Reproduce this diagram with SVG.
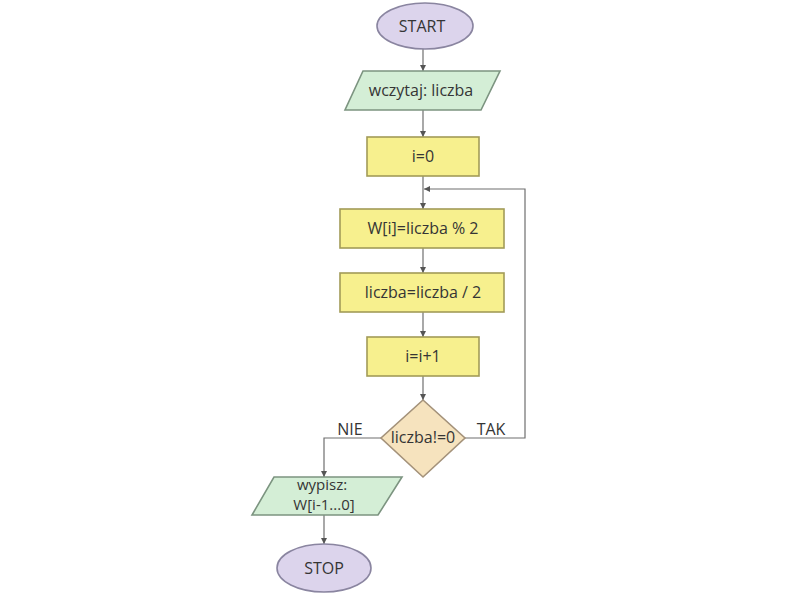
<svg xmlns="http://www.w3.org/2000/svg" width="800" height="600" viewBox="0 0 800 600">
  <defs>
    <marker id="arr" viewBox="0 0 10 10" refX="10" refY="5" markerWidth="6" markerHeight="6" markerUnits="userSpaceOnUse" orient="auto">
      <path d="M0,0 L10,5 L0,10 z" fill="#555"/>
    </marker>
    <style>
      .t { font-family: "Open Sans", "Liberation Sans", sans-serif; font-size: 16px; fill: #353535; text-anchor: middle; }
      .s { font-size: 15px; }
      .term { fill: #dcd4ec; stroke: #8a85a0; stroke-width: 1.6; }
      .io { fill: #d4eed6; stroke: #7c9480; stroke-width: 1.6; }
      .proc { fill: #f7f08e; stroke: #a29b58; stroke-width: 1.6; }
      .dec { fill: #f6e3be; stroke: #a4927a; stroke-width: 1.6; }
      .ln { fill: none; stroke: #6f6f6f; stroke-width: 1.2; }
    </style>
  </defs>
  <rect width="800" height="600" fill="#ffffff"/>

  <g id="connectors">
    <line class="ln" x1="423" y1="49" x2="423" y2="71" marker-end="url(#arr)"/>
    <line class="ln" x1="423" y1="110" x2="423" y2="137" marker-end="url(#arr)"/>
    <line class="ln" x1="423" y1="176" x2="423" y2="209" marker-end="url(#arr)"/>
    <line class="ln" x1="423" y1="248" x2="423" y2="273" marker-end="url(#arr)"/>
    <line class="ln" x1="423" y1="312" x2="423" y2="337" marker-end="url(#arr)"/>
    <line class="ln" x1="423" y1="376" x2="423" y2="400" marker-end="url(#arr)"/>
    <polyline class="ln" points="465,438 525,438 525,189 424,189" marker-end="url(#arr)"/>
    <polyline class="ln" points="381,438 324,438 324,477" marker-end="url(#arr)"/>
    <line class="ln" x1="324" y1="515" x2="324" y2="544" marker-end="url(#arr)"/>
    <text class="t" x="350" y="435">NIE</text>
    <text class="t" x="491" y="435">TAK</text>
  </g>

  <g id="start">
    <ellipse class="term" cx="425" cy="26" rx="48" ry="23"/>
    <text class="t" x="422" y="32">START</text>
  </g>
  <g id="read">
    <polygon class="io" points="363,71 500,71 481,110 345,110"/>
    <text class="t" x="421" y="96">wczytaj: liczba</text>
  </g>
  <g id="init">
    <rect class="proc" x="367" y="137" width="112" height="39"/>
    <text class="t" x="423" y="162">i=0</text>
  </g>
  <g id="mod">
    <rect class="proc" x="340" y="209" width="164" height="39"/>
    <text class="t" x="423" y="234">W[i]=liczba % 2</text>
  </g>
  <g id="div">
    <rect class="proc" x="340" y="273" width="164" height="39"/>
    <text class="t" x="423" y="298">liczba=liczba / 2</text>
  </g>
  <g id="inc">
    <rect class="proc" x="367" y="337" width="112" height="39"/>
    <text class="t" x="423" y="362">i=i+1</text>
  </g>
  <g id="cond">
    <polygon class="dec" points="423,400 465,438 423,477 381,438"/>
    <text class="t" x="423" y="443">liczba!=0</text>
  </g>
  <g id="write">
    <polygon class="io" points="274,477 402,477 378,515 252,515"/>
    <text class="t s" x="322" y="489.5">wypisz:</text>
    <text class="t s" x="324" y="510">W[i-1...0]</text>
  </g>
  <g id="stop">
    <ellipse class="term" cx="324" cy="568" rx="47" ry="24"/>
    <text class="t" x="324" y="574">STOP</text>
  </g>
</svg>
